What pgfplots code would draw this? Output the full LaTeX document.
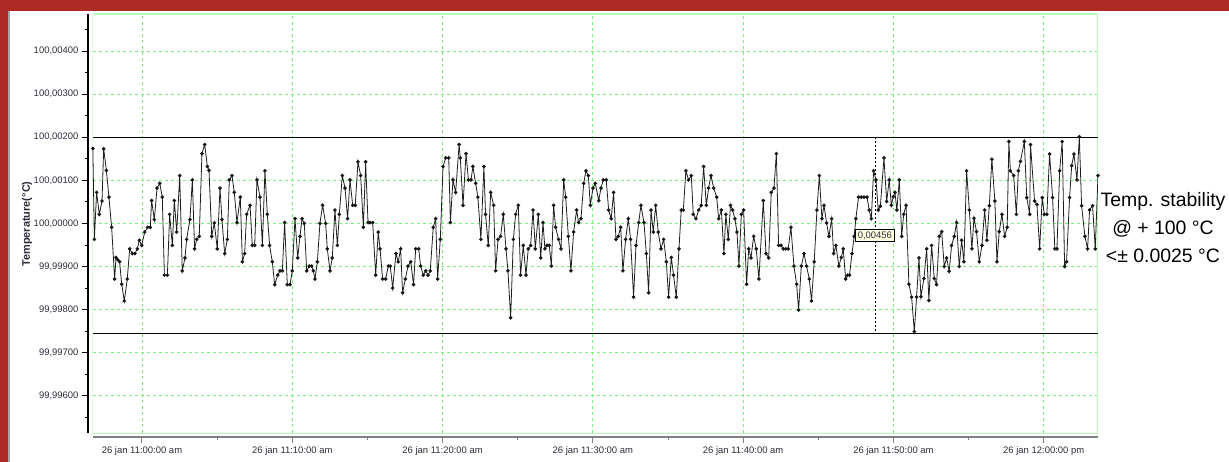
\documentclass[border=0pt]{standalone}
\usepackage{fontspec}
\setmainfont{Liberation Sans}
\usepackage{pgfplots}
\pgfplotsset{compat=1.18}
\definecolor{slidered}{RGB}{172,42,36}
\definecolor{gridgreen}{RGB}{125,240,125}
\definecolor{framegreen}{RGB}{185,250,185}
\definecolor{labelcol}{RGB}{45,45,60}
\definecolor{tipfill}{RGB}{255,255,225}
\begin{document}
\begin{tikzpicture}[x=1bp,y=1bp]
\useasboundingbox (0,0) rectangle (1229,462);
\fill[white] (0,0) rectangle (1229,462);
\fill[slidered] (0,451) rectangle (1229,462);
\fill[slidered] (0,0) rectangle (8,462);
\fill[gray!70] (8,0) rectangle (10,451);

\begin{axis}[
  at={(92.7bp,28.7bp)}, anchor=south west,
  width=1005.3bp, height=419.3bp, scale only axis,
  xmin=-3.28, xmax=63.61, ymin=-4.87, ymax=4.86,
  axis lines=left, axis line style={-},
  axis x line shift=3.7bp, axis y line shift=4.7bp,
  x axis line style={draw=gray, line width=1.4bp},
  y axis line style={draw=black, line width=1.2bp},
  xtick={0,10,...,60},
  xticklabels={26 jan 11:00:00 am,26 jan 11:10:00 am,26 jan 11:20:00 am,26 jan 11:30:00 am,26 jan 11:40:00 am,26 jan 11:50:00 am,26 jan 12:00:00 pm},
  minor xtick={5,15,...,55},
  ytick={-4,-3,...,4},
  yticklabels={{99,99600},{99,99700},{99,99800},{99,99900},{100,00000},{100,00100},{100,00200},{100,00300},{100,00400}},
  minor ytick={-4.5,-3.5,...,4.5},
  tick align=outside,
  major tick length=6bp, minor tick length=3bp,
  xtick style={draw=gray, line width=1bp},
  ytick style={draw=black, line width=0.8bp},
  tick label style={font=\fontsize{9.5}{11}\selectfont, text=labelcol},
  /pgf/number format/assume math mode=true,
  grid=major,
  major grid style={gridgreen, line width=0.8bp, dash pattern=on 3bp off 3bp},
]
\draw[framegreen, line width=1.5bp] (rel axis cs:0,0) rectangle (rel axis cs:1,1);
\draw[black, line width=1bp] (axis cs:-3.28,2) -- (axis cs:63.61,2);
\draw[black, line width=1bp] (axis cs:-3.28,-2.55) -- (axis cs:63.61,-2.55);
\draw[black, line width=0.8bp, dash pattern=on 2bp off 2bp] (axis cs:48.82,2) -- (axis cs:48.82,-2.55);
\addplot[color={rgb,255:red,30;green,30;blue,30}, line width=0.8bp, mark=*, mark size=1.4bp, mark options={fill=black}] table {
x y
-3.27 1.74
-3.17 -0.37
-3.02 0.72
-2.84 0.21
-2.66 0.52
-2.55 1.73
-2.37 1.23
-2.20 0.61
-2.02 -0.09
-1.82 -1.29
-1.73 -0.79
-1.62 -0.84
-1.49 -0.89
-1.35 -1.41
-1.18 -1.80
-0.98 -1.29
-0.82 -0.59
-0.64 -0.70
-0.47 -0.70
-0.31 -0.59
-0.18 -0.39
-0.02 -0.51
0.18 -0.20
0.38 -0.09
0.55 -0.09
0.64 0.53
0.82 0.09
1.00 0.82
1.18 0.93
1.35 0.61
1.49 -1.20
1.69 -1.20
1.84 0.21
2.02 -0.51
2.15 0.53
2.31 -0.20
2.51 1.11
2.68 -1.10
2.86 -0.80
2.97 -0.37
3.19 0.09
3.35 1.01
3.50 -0.59
3.64 -0.37
3.81 -0.30
3.99 1.62
4.17 1.83
4.35 1.32
4.46 1.23
4.64 -0.30
4.81 0.01
5.01 -0.59
5.19 0.82
5.32 0.09
5.50 -0.70
5.68 -0.37
5.81 1.01
5.99 1.11
6.14 0.72
6.32 0.02
6.54 0.61
6.68 -0.89
6.83 -0.70
6.96 0.21
7.19 0.42
7.34 -0.51
7.50 -0.51
7.65 1.01
7.85 0.61
8.01 -0.51
8.18 1.22
8.34 0.21
8.49 -0.51
8.67 -0.89
8.83 -1.42
9.03 -1.20
9.18 -1.10
9.34 -1.10
9.49 0.02
9.67 -1.42
9.85 -1.42
10.00 -1.10
10.18 0.11
10.36 -0.80
10.51 -0.30
10.65 0.11
10.80 0.00
10.96 -1.10
11.13 -0.99
11.29 -0.99
11.40 -1.10
11.51 -1.29
11.67 -0.89
11.84 0.00
12.02 0.42
12.22 0.00
12.33 -0.59
12.51 -1.10
12.66 -0.80
12.84 0.31
13.00 -0.51
13.13 0.21
13.33 1.11
13.51 0.82
13.68 0.11
13.84 1.01
14.02 0.42
14.19 0.42
14.37 1.43
14.55 1.11
14.73 -0.09
14.88 1.43
15.04 0.02
15.17 0.02
15.35 0.02
15.55 -1.20
15.72 -0.20
15.84 -0.59
16.01 -1.29
16.21 -1.29
16.39 -0.99
16.52 -0.99
16.68 -1.50
16.90 -0.70
17.05 -0.89
17.21 -0.59
17.34 -1.61
17.52 -1.29
17.70 -0.99
17.88 -0.89
18.07 -1.42
18.21 -0.59
18.41 -0.59
18.54 -0.99
18.72 -1.20
18.88 -1.10
19.03 -1.20
19.18 -1.10
19.38 -0.09
19.54 0.11
19.67 -1.29
19.85 -0.37
20.03 1.32
20.21 1.52
20.41 1.52
20.52 0.02
20.69 1.01
20.87 0.72
21.10 1.83
21.18 1.52
21.36 0.42
21.56 1.62
21.72 1.01
21.89 1.01
22.02 1.32
22.20 0.93
22.35 0.61
22.55 -0.37
22.75 1.32
22.86 0.21
23.04 -0.51
23.20 0.72
23.40 0.42
23.53 -1.10
23.69 -0.37
23.86 -0.30
24.04 0.21
24.22 -0.59
24.35 -1.10
24.53 -2.19
24.71 -0.37
24.86 0.21
25.04 0.42
25.19 -1.20
25.37 -0.51
25.55 -1.20
25.70 -0.59
25.86 -0.51
26.02 0.31
26.17 -0.59
26.37 0.21
26.53 -0.80
26.68 0.02
26.81 -0.59
26.95 -0.51
27.10 -0.51
27.24 -0.99
27.39 0.42
27.52 -0.09
27.72 -0.37
27.88 -0.59
28.06 1.01
28.19 0.61
28.37 -0.30
28.54 -1.10
28.72 -0.20
28.92 0.31
29.05 0.02
29.21 0.11
29.39 0.93
29.54 1.22
29.70 1.11
29.83 0.42
30.01 0.82
30.16 0.93
30.39 0.53
30.54 0.82
30.69 1.01
30.89 1.01
31.05 0.31
31.22 0.11
31.38 0.72
31.54 -0.37
31.69 -0.30
31.85 -0.09
32.00 -1.10
32.18 -0.37
32.36 0.11
32.51 -0.37
32.71 -1.71
32.87 -0.51
33.05 0.02
33.20 0.42
33.40 0.02
33.56 -0.70
33.71 -1.61
33.87 0.31
34.02 -0.20
34.18 0.42
34.35 -0.20
34.53 -0.59
34.71 -0.37
34.89 -0.89
35.04 -1.71
35.22 -0.79
35.37 -1.20
35.55 -1.71
35.73 -0.59
35.88 0.31
36.02 0.31
36.19 1.22
36.37 1.01
36.55 1.11
36.68 0.21
36.86 0.11
37.04 0.31
37.21 0.42
37.37 1.32
37.55 0.42
37.70 0.82
37.86 1.11
38.04 0.82
38.24 0.61
38.37 0.11
38.55 0.31
38.72 -0.70
38.85 0.21
39.01 -0.37
39.16 0.42
39.30 0.31
39.45 0.11
39.59 -0.20
39.72 -0.99
39.88 0.21
40.03 0.31
40.23 -1.41
40.37 -0.59
40.52 -0.80
40.70 -0.30
40.87 -0.59
41.05 -1.29
41.34 0.53
41.52 -0.70
41.70 -0.80
41.87 0.72
42.05 0.82
42.21 1.62
42.36 -0.51
42.52 -0.51
42.67 -0.59
42.83 -0.59
43.00 -0.59
43.18 -0.09
43.38 -0.99
43.56 -1.41
43.69 -2.01
43.87 -0.99
44.05 -0.70
44.22 -0.99
44.40 -1.29
44.55 -1.80
44.73 -0.89
44.91 0.31
45.07 1.11
45.24 0.11
45.38 0.42
45.55 0.01
45.71 -0.30
45.89 0.11
46.02 -0.70
46.17 -0.51
46.37 -0.99
46.53 -0.79
46.66 -0.59
46.82 -1.29
46.95 -1.20
47.08 -1.20
47.24 -0.70
47.39 -0.30
47.50 0.11
47.68 0.61
47.86 0.61
48.04 0.61
48.24 0.61
48.39 0.31
48.53 0.11
48.68 1.22
48.84 1.01
48.99 0.31
49.13 0.40
49.37 1.52
49.55 0.51
49.72 1.01
49.86 0.42
49.99 0.62
50.10 0.72
50.23 0.31
50.39 1.01
50.55 -0.30
50.68 0.21
50.84 0.42
51.03 -1.41
51.21 -1.71
51.39 -2.51
51.54 -1.71
51.70 -0.80
51.83 -1.70
52.03 -1.28
52.21 -0.59
52.36 -1.79
52.54 -0.51
52.72 -1.28
52.87 -1.42
53.05 -0.30
53.21 -0.19
53.38 -1.00
53.54 -0.80
53.71 -1.11
53.87 -0.51
54.05 -0.30
54.20 0.02
54.38 -1.00
54.54 -0.39
54.69 -0.89
54.87 1.22
55.05 0.31
55.22 -0.59
55.36 0.12
55.53 -0.19
55.71 -0.89
55.89 -0.51
56.07 0.31
56.22 -0.39
56.38 0.41
56.55 1.49
56.75 0.52
56.89 -0.89
57.04 -0.19
57.22 0.21
57.40 -0.30
57.57 -0.09
57.68 1.90
57.78 1.22
58.00 1.11
58.18 0.21
58.31 1.22
58.45 1.44
58.71 1.90
58.87 0.60
59.07 0.21
59.12 1.83
59.39 0.52
59.55 0.44
59.73 -0.59
59.90 0.60
60.04 0.21
60.21 0.21
60.39 1.61
60.59 0.60
60.74 -0.59
60.88 -0.59
61.06 1.22
61.23 1.90
61.39 -1.00
61.52 -0.89
61.72 0.60
61.86 1.34
62.01 1.61
62.21 1.01
62.37 2.01
62.52 0.41
62.74 -0.30
62.92 -0.59
63.05 0.31
63.25 0.41
63.43 -0.59
63.61 1.11
};
\node[anchor=west, fill=tipfill, draw=black, line width=0.6bp, inner xsep=2.5bp, inner ysep=2bp,
  font=\fontsize{9.5}{11}\selectfont, text=labelcol] at (axis cs:47.44,-0.28) {0,00456};
\end{axis}

\node[rotate=90, font=\bfseries\fontsize{11}{13}\selectfont, text=labelcol] at (27,238) {Temperature(°C)};
\node[anchor=base, font=\fontsize{19.5}{23}\selectfont] at (1163,255.3) {Temp. stability};
\node[anchor=base, font=\fontsize{19.5}{23}\selectfont] at (1163,227.5) {@ + 100 °C};
\node[anchor=base, font=\fontsize{19.5}{23}\selectfont] at (1163,199.3) {<± 0.0025 °C};
\end{tikzpicture}
\end{document}
